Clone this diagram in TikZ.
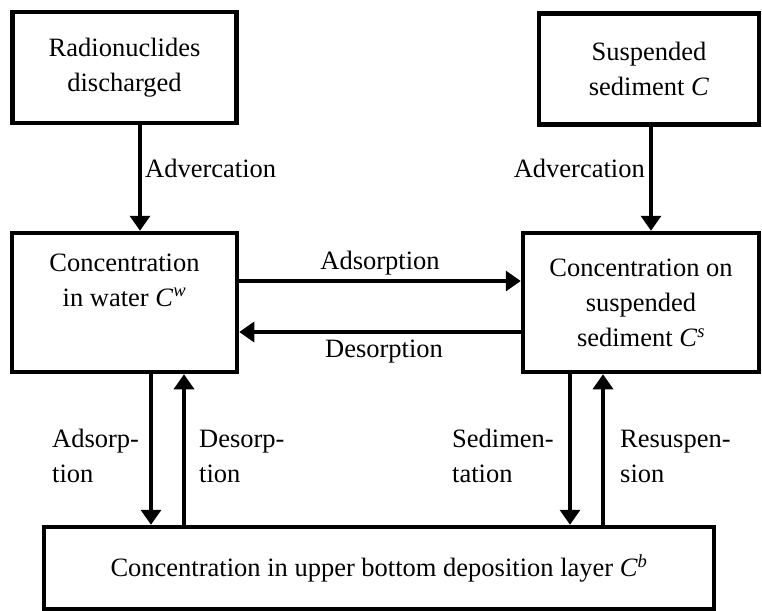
\documentclass[tikz,border=0pt]{standalone}
\usepackage{fontspec}
\setmainfont{Liberation Serif}
\usetikzlibrary{arrows.meta}
\begin{document}
\begin{tikzpicture}[x=1pt,y=-1pt,
  box/.style={draw, line width=4.5pt, align=center, inner sep=0pt},
  arr/.style={line width=3.4pt, -{Triangle[length=15pt,width=20pt]}},
  lbl/.style={align=left, inner sep=0pt},
  every node/.style={font=\fontsize{26.5}{35}\selectfont}]
\useasboundingbox (0,0) rectangle (762,610);
% boxes
\node[box, minimum width=224pt, minimum height=111pt] (rad) at (124.5,67.5) {Radionuclides\\discharged};
\node[box, minimum width=220pt, minimum height=111pt] (sus) at (649,69) {Suspended\\sediment \textit{C}};
\node[box, minimum width=225pt, minimum height=139pt] (cw) at (124.5,302.5) {Concentration\\in water \textit{C}\textsuperscript{\textit{w}}\\\strut};
\node[box, minimum width=236pt, minimum height=139pt] (cs) at (641,302.5) {Concentration on\\suspended\\sediment \textit{C}\textsuperscript{\textit{s}}};
\node[box, minimum width=670pt, minimum height=82pt] (cb) at (379,568) {Concentration in upper bottom deposition layer \textit{C}\textsuperscript{\textit{b}}};
% helper coordinates
\coordinate (xa) at (140,0);
\coordinate (xb) at (651,0);
\coordinate (ya) at (0,281);
\coordinate (yb) at (0,332);
\coordinate (x1) at (151,0);
\coordinate (x2) at (184,0);
\coordinate (x3) at (570,0);
\coordinate (x4) at (603,0);
% connectors
\draw[arr] (rad.south -| xa) -- (cw.north -| xa);
\draw[arr] (sus.south -| xb) -- (cs.north -| xb);
\draw[arr] (cw.east |- ya) -- (cs.west |- ya);
\draw[arr] (cs.west |- yb) -- (cw.east |- yb);
\draw[arr] (cw.south -| x1) -- (cb.north -| x1);
\draw[arr] (cb.north -| x2) -- (cw.south -| x2);
\draw[arr] (cs.south -| x3) -- (cb.north -| x3);
\draw[arr] (cb.north -| x4) -- (cs.south -| x4);
% labels
\node[lbl, anchor=west] (l1) at (145,168) {Advercation};
\node[lbl, anchor=east] (l2) at (645,168) {Advercation};
\node[lbl] (l3) at (380,263) {Adsorption};
\node[lbl] (l4) at (384,352) {Desorption};
\node[lbl, anchor=west] (l5) at (52,456) {Adsorp-\\tion};
\node[lbl, anchor=west] (l6) at (199,456) {Desorp-\\tion};
\node[lbl, anchor=west] (l7) at (452,456) {Sedimen-\\tation};
\node[lbl, anchor=west] (l8) at (620,456) {Resuspen-\\sion};
\end{tikzpicture}
\end{document}
